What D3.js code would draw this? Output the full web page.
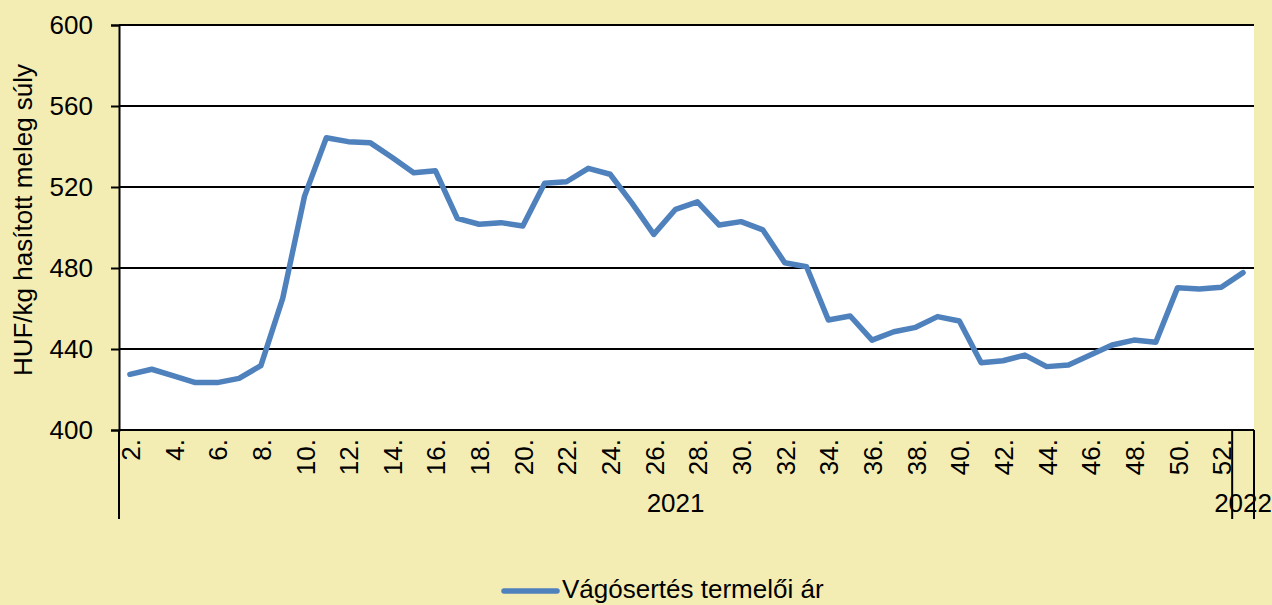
<!DOCTYPE html>
<html><head><meta charset="utf-8">
<script src="https://cdn.jsdelivr.net/npm/d3@7"></script>
<style>
html,body{margin:0;padding:0;background:#F4EDB3;}
svg{display:block;font-family:"Liberation Sans",Arial,sans-serif;}
</style></head>
<body><svg id="c" width="1272" height="605"></svg>
<script>
const weeks = ["2.","3.","4.","5.","6.","7.","8.","9.","10.","11.","12.","13.","14.","15.","16.","17.","18.","19.","20.","21.","22.","23.","24.","25.","26.","27.","28.","29.","30.","31.","32.","33.","34.","35.","36.","37.","38.","39.","40.","41.","42.","43.","44.","45.","46.","47.","48.","49.","50.","51.","52.","1."];
const years = ["2021","2021","2021","2021","2021","2021","2021","2021","2021","2021","2021","2021","2021","2021","2021","2021","2021","2021","2021","2021","2021","2021","2021","2021","2021","2021","2021","2021","2021","2021","2021","2021","2021","2021","2021","2021","2021","2021","2021","2021","2021","2021","2021","2021","2021","2021","2021","2021","2021","2021","2021","2022"];
const prices = [427.5,430,426.7,423.4,423.4,425.5,431.8,465,515.5,544.3,542.4,541.9,534.7,527,528,504.5,501.6,502.4,500.7,521.8,522.6,529.2,526.3,512,496.6,509,512.7,501.2,502.9,498.8,482.6,480.6,454.3,456.3,444.4,448.5,450.7,456,453.8,433.2,434.2,437,431.3,432.1,437,442,444.4,443.3,470.3,469.6,470.5,477.7];
const yTicks = [400,440,480,520,560,600];
const seriesName = "Vágósertés termelői ár";
const yTitle = "HUF/kg hasított meleg súly";

const FS = 26;
const svg = d3.select("#c");
const L = 119, R = 1254, T = 25, B = 430;
const ids = d3.range(prices.length);
const x = d3.scaleBand().domain(ids).range([L, R]).padding(0);
const y = d3.scaleLinear().domain([400, 600]).range([B, T]);

svg.append("rect").attr("x", L).attr("y", T).attr("width", R - L).attr("height", B - T).attr("fill", "#fff");

// gridlines
svg.append("g").selectAll("line").data(yTicks.filter(v => v > 400)).join("line")
  .attr("x1", L).attr("x2", R).attr("y1", d => y(d)).attr("y2", d => y(d))
  .attr("stroke", "#000").attr("stroke-width", 2);

// y axis
const ya = svg.append("g").attr("transform", `translate(${L},0)`)
  .call(d3.axisLeft(y).tickValues(yTicks).tickSize(8).tickPadding(18).tickFormat(d3.format("d")));
ya.select(".domain").attr("stroke", "#000").attr("stroke-width", 2);
ya.selectAll(".tick line").attr("stroke", "#000").attr("stroke-width", 2);
ya.selectAll(".tick text").attr("font-size", FS).attr("fill", "#000").attr("font-family", "Liberation Sans, Arial, sans-serif");

svg.append("text").attr("transform", `translate(32,220) rotate(-90)`)
  .attr("text-anchor", "middle").attr("font-size", FS).attr("fill", "#000").text(yTitle);

// x axis line
svg.append("line").attr("x1", L).attr("x2", R).attr("y1", B).attr("y2", B).attr("stroke", "#000").attr("stroke-width", 2);

// week labels
svg.append("g").selectAll("text").data(ids.filter(i => i % 2 === 0)).join("text")
  .attr("transform", d => `translate(${x(d) + x.bandwidth() / 2 + 1},${B + 9}) rotate(-90)`)
  .attr("text-anchor", "end").attr("dominant-baseline", "central")
  .attr("font-size", FS).attr("fill", "#000").text(d => weeks[d]);

// year groups
const groups = d3.groups(ids, i => years[i]).map(([k, v]) => ({k, a: d3.min(v), b: d3.max(v)}));
const boundaries = [L].concat(groups.map(g => x(g.b) + x.bandwidth()));
svg.append("g").selectAll("line").data(boundaries).join("line")
  .attr("x1", d => d).attr("x2", d => d).attr("y1", B).attr("y2", 519)
  .attr("stroke", "#000").attr("stroke-width", 2);
svg.append("g").selectAll("text").data(groups).join("text")
  .attr("x", g => (x(g.a) + x(g.b) + x.bandwidth()) / 2).attr("y", 512)
  .attr("text-anchor", "middle").attr("font-size", FS).attr("fill", "#000").text(g => g.k);

// line
const line = d3.line().x((d, i) => x(i) + x.bandwidth() / 2).y(d => y(d));
svg.append("path").datum(prices).attr("d", line).attr("fill", "none")
  .attr("stroke", "#4F81BD").attr("stroke-width", 5.5).attr("stroke-linejoin", "round").attr("stroke-linecap", "round");

// legend
svg.append("line").attr("x1", 504).attr("x2", 557).attr("y1", 591).attr("y2", 591)
  .attr("stroke", "#4F81BD").attr("stroke-width", 5.5).attr("stroke-linecap", "round");
svg.append("text").attr("x", 562).attr("y", 598).attr("font-size", FS).attr("fill", "#000").text(seriesName);
</script></body></html>
